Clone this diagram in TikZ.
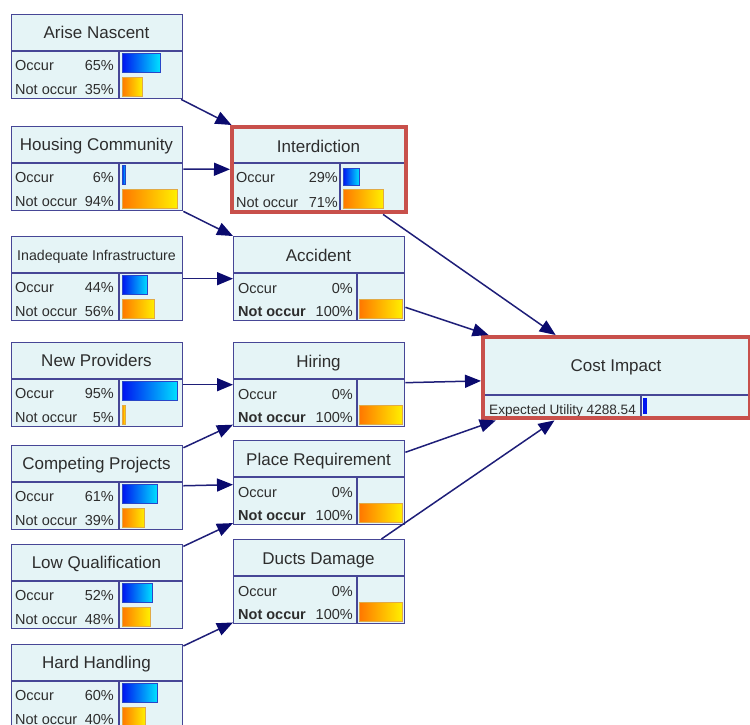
\documentclass[tikz,border=0pt]{standalone}
\usepackage{fontspec}
\setmainfont{Liberation Sans}
\usetikzlibrary{arrows.meta,fit}

\definecolor{boxfill}{RGB}{229,244,246}
\definecolor{boxline}{RGB}{70,70,150}
\definecolor{arrowc}{RGB}{30,30,120}
\definecolor{arrowhead}{RGB}{10,10,110}
\definecolor{hlred}{RGB}{200,80,75}
\definecolor{txt}{RGB}{45,45,45}
\definecolor{occL}{RGB}{0,20,240}
\definecolor{occR}{RGB}{0,225,255}
\definecolor{occB}{RGB}{40,70,200}
\definecolor{notL}{RGB}{255,120,0}
\definecolor{notR}{RGB}{255,240,0}
\definecolor{notB}{RGB}{225,170,70}

\tikzset{
  nodebox/.style={draw=boxline, fill=boxfill, line width=1.4pt, rectangle, inner sep=0pt, anchor=north west},
  divline/.style={draw=boxline, line width=1.2pt},
  titletext/.style={text=txt, inner sep=0pt, anchor=base, font=\fontsize{17}{20}\selectfont},
  rowtext/.style={text=txt, inner sep=0pt, font=\fontsize{14.5}{17}\selectfont},
  occbar/.style={left color=occL, right color=occR, draw=occB, line width=0.8pt},
  notbar/.style={left color=notL, right color=notR, draw=notB, line width=0.8pt},
  highlight/.style={draw=hlred, line width=4pt, inner sep=1pt, rectangle},
  link/.style={draw=arrowc, line width=1.5pt,
    -{Triangle[length=16pt,width=13pt,fill=arrowhead,color=arrowhead]}},
}

% chance node of the left column: name, top, title, occur %, not occur %
\newcommand\leftnode[5]{%
  \node[nodebox, minimum width=171pt, minimum height=84pt] (#1) at (11,#2) {};
  \draw[divline] (11,{#2+37}) -- (182,{#2+37}) (119,{#2+37}) -- (119,{#2+84});
  \node[titletext] at (96.5,{#2+24.5}) {#3};
  \node[rowtext, anchor=base west] at (15,{#2+56.5}) {Occur};
  \node[rowtext, anchor=base east] at (114,{#2+56.5}) {#4\%};
  \node[rowtext, anchor=base west] at (15,{#2+80}) {Not occur};
  \node[rowtext, anchor=base east] at (114,{#2+80}) {#5\%};
  \shadedraw[occbar] (122,{#2+39}) rectangle ({122+0.585*#4},{#2+58});
  \shadedraw[notbar] (122,{#2+63}) rectangle ({122+0.585*#5},{#2+82});
}

% chance node of the middle column (all evidence on "Not occur"): name, top, title
\newcommand\midnode[3]{%
  \node[nodebox, minimum width=171pt, minimum height=84pt] (#1) at (233,#2) {};
  \draw[divline] (233,{#2+37}) -- (404,{#2+37}) (357,{#2+37}) -- (357,{#2+84});
  \node[titletext] at (318.5,{#2+25}) {#3};
  \node[rowtext, anchor=base west] at (238,{#2+57}) {Occur};
  \node[rowtext, anchor=base east] at (353,{#2+57}) {0\%};
  \node[rowtext, anchor=base west, font=\fontsize{14.5}{17}\selectfont\bfseries] at (238,{#2+80}) {Not occur};
  \node[rowtext, anchor=base east] at (353,{#2+80}) {100\%};
  \shadedraw[notbar] (359.5,{#2+63}) rectangle (402.5,{#2+82.5});
}

\begin{document}
\begin{tikzpicture}[x=1pt,y=-1pt]
\useasboundingbox (0,0) rectangle (750,724);
\clip (0,0) rectangle (750,724);

% left column
\leftnode{an}{14}{Arise Nascent}{65}{35}
\leftnode{hc}{126}{Housing Community}{6}{94}
\leftnode{ii}{236}{\fontsize{14.2}{17}\selectfont Inadequate Infrastructure}{44}{56}
\leftnode{np}{342}{New Providers}{95}{5}
\leftnode{cp}{445}{Competing Projects}{61}{39}
\leftnode{lq}{544}{Low Qualification}{52}{48}
\leftnode{hh}{644}{Hard Handling}{60}{40}

% middle column
\node[nodebox, minimum width=171pt, minimum height=82pt] (int) at (233,128) {};
\draw[divline] (233,163) -- (404,163) (340,163) -- (340,210);
\node[titletext] at (318.5,152) {Interdiction};
\node[rowtext, anchor=base west] at (236,182) {Occur};
\node[rowtext, anchor=base east] at (338,182) {29\%};
\node[rowtext, anchor=base west] at (236,207) {Not occur};
\node[rowtext, anchor=base east] at (338,207) {71\%};
\shadedraw[occbar] (343,168) rectangle (359.5,185);
\shadedraw[notbar] (343,189) rectangle (383.5,208.5);
\node[highlight, fit=(int)] (intHL) {};

\midnode{acc}{236}{Accident}
\midnode{hir}{342}{Hiring}
\midnode{pr}{440}{Place Requirement}
\midnode{dd}{539}{Ducts Damage}

% utility node
\node[nodebox, minimum width=264pt, minimum height=78pt] (ci) at (484,338) {};
\draw[divline] (484,395) -- (748,395) (641,395) -- (641,416);
\node[titletext] at (616,371.5) {Cost Impact};
\node[rowtext, anchor=base west, font=\fontsize{13.6}{16}\selectfont] at (489,414) {Expected Utility 4288.54};
\fill[occL] (643,398) rectangle (646.5,414);
\node[highlight, fit=(ci)] (ciHL) {};

% links
\draw[link] (an) -- (intHL);
\draw[link] (hc) -- (intHL);
\draw[link] (hc) -- (acc);
\draw[link] (ii) -- (acc);
\draw[link] (np) -- (hir);
\draw[link] (cp) -- (hir);
\draw[link] (cp) -- (pr);
\draw[link] (lq) -- (pr);
\draw[link] (hh) -- (dd);
\draw[link] (intHL) -- (ciHL);
\draw[link] (acc) -- (ciHL);
\draw[link] (hir) -- (ciHL);
\draw[link] (pr) -- (ciHL);
\draw[link] (dd) -- (ciHL);
\end{tikzpicture}
\end{document}
